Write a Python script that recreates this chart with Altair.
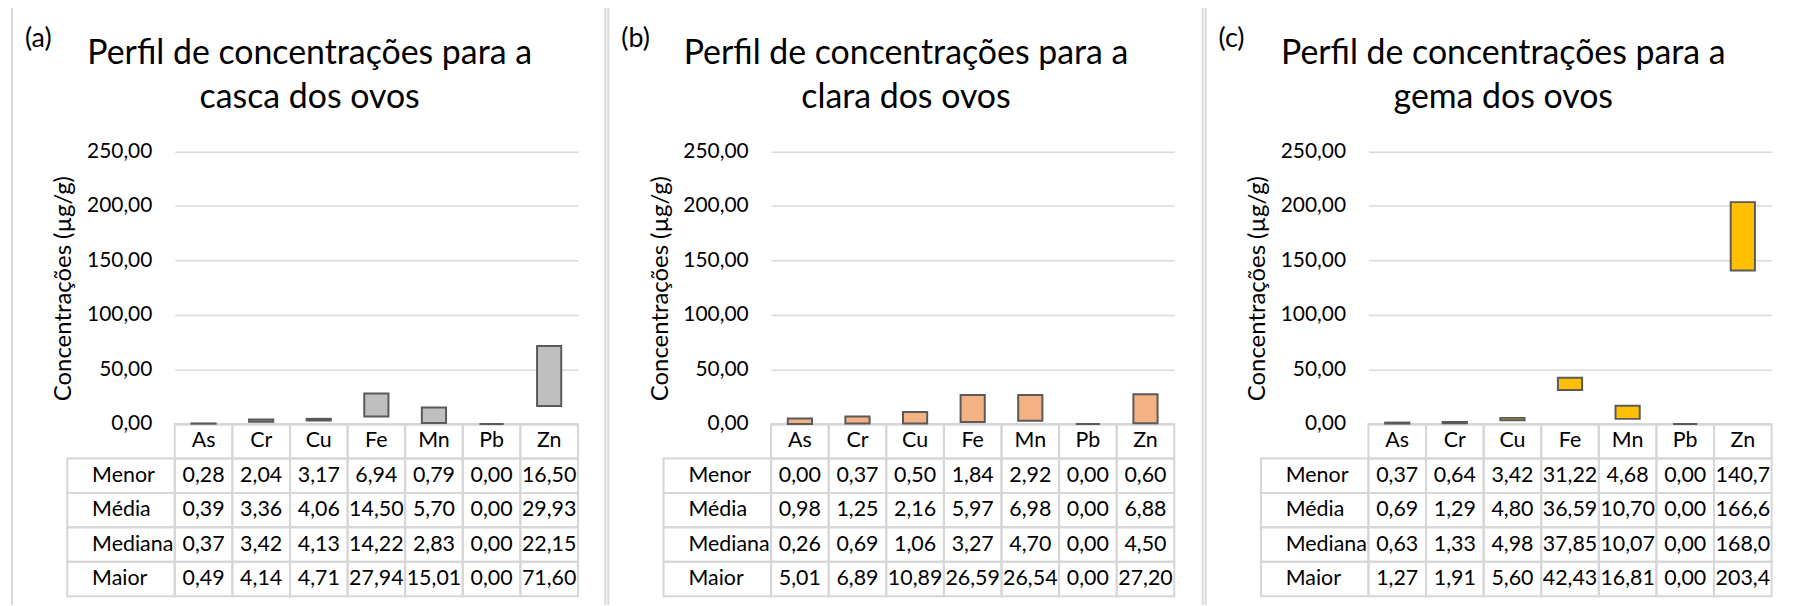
import altair as alt
import pandas as pd

ELEMENTS = ["As", "Cr", "Cu", "Fe", "Mn", "Pb", "Zn"]
ROW_NAMES = ["Menor", "Média", "Mediana", "Maior"]
Y_TICKS = [0, 50, 100, 150, 200, 250]

# (a) casca
A_MENOR = [0.28, 2.04, 3.17, 6.94, 0.79, 0.00, 16.50]
A_MEDIA = [0.39, 3.36, 4.06, 14.50, 5.70, 0.00, 29.93]
A_MEDIANA = [0.37, 3.42, 4.13, 14.22, 2.83, 0.00, 22.15]
A_MAIOR = [0.49, 4.14, 4.71, 27.94, 15.01, 0.00, 71.60]

# (b) clara
B_MENOR = [0.00, 0.37, 0.50, 1.84, 2.92, 0.00, 0.60]
B_MEDIA = [0.98, 1.25, 2.16, 5.97, 6.98, 0.00, 6.88]
B_MEDIANA = [0.26, 0.69, 1.06, 3.27, 4.70, 0.00, 4.50]
B_MAIOR = [5.01, 6.89, 10.89, 26.59, 26.54, 0.00, 27.20]

# (c) gema
C_MENOR = [0.37, 0.64, 3.42, 31.22, 4.68, 0.00, 140.70]
C_MEDIA = [0.69, 1.29, 4.80, 36.59, 10.70, 0.00, 166.60]
C_MEDIANA = [0.63, 1.33, 4.98, 37.85, 10.07, 0.00, 168.00]
C_MAIOR = [1.27, 1.91, 5.60, 42.43, 16.81, 0.00, 203.40]

TITLE_A = ["Perfil de concentrações para a", "casca dos ovos"]
TITLE_B = ["Perfil de concentrações para a", "clara dos ovos"]
TITLE_C = ["Perfil de concentrações para a", "gema dos ovos"]

FONT = "Lato"
H = 602
BORDER = "#D9D9D9"
CELL = "#D6D6D6"
TABLE_FS = 21.5


def panel(tag, title_lines, menor, media, mediana, maior, fill, W, right_border=True):
    bars_df = pd.DataFrame({"element": ELEMENTS, "menor": menor, "maior": maior})
    recs = []
    for i, el in enumerate(ELEMENTS):
        recs.append({"element": el, "row": "hdr", "value": None})
        for rn, arr in zip(ROW_NAMES, [menor, media, mediana, maior]):
            recs.append({"element": el, "row": rn, "value": arr[i]})
    tab_df = pd.DataFrame(recs)
    lab_df = pd.DataFrame({"row": ROW_NAMES})
    one = pd.DataFrame({"k": [0]})

    xs = alt.Scale(domain=ELEMENTS, range=[164.5, 569.5], paddingInner=0, paddingOuter=0)
    X = alt.X("element:N", scale=xs, axis=None)
    rows_scale = alt.Scale(domain=["hdr"] + ROW_NAMES, range=[420.5, 593.5],
                           paddingInner=0, paddingOuter=0)
    YR = alt.Y("row:N", scale=rows_scale, axis=None)

    yaxis = alt.Axis(
        values=Y_TICKS, grid=True, gridColor="#D9D9D9", gridWidth=1.5,
        domain=False, ticks=False, labelPadding=23, labelFont=FONT,
        labelFontSize=21, labelColor="#000000",
        labelExpr="replace(format(datum.value, '.2f'), '.', ',')",
        offset=-164.5, title="Concentrações (µg/g)", titleFont=FONT,
        titleFontSize=24, titleFontWeight="normal", titleColor="#000000",
        titleX=-111.5, titleY=284, titleAngle=270, titleAlign="center",
        titleBaseline="middle",
    )

    bars = alt.Chart(bars_df).mark_bar(
        width=alt.RelativeBandSize(0.42), fill=fill, stroke="#5A5A5A", strokeWidth=2
    ).encode(
        x=X,
        y=alt.Y("menor:Q", scale=alt.Scale(domain=[0, 250], range=[420.5, 146.6],
                                           nice=False, zero=True), axis=yaxis),
        y2=alt.Y2("maior:Q"),
    )

    cells = alt.Chart(tab_df).mark_rect(fillOpacity=0, stroke=CELL, strokeWidth=2).encode(
        x=X, y=YR
    )
    labcells = alt.Chart(lab_df).mark_rect(fillOpacity=0, stroke=CELL, strokeWidth=2).encode(
        x=alt.value(56.5), x2=alt.value(164.5), y=YR
    )
    # cell text; long numbers are clipped by the cell width as in the spreadsheet
    vtext = alt.Chart(tab_df).transform_calculate(
        label="datum.row == 'hdr' ? datum.element : "
              "substring(replace(format(datum.value, '.2f'), '.', ','), 0, 5)"
    ).mark_text(baseline="middle", font=FONT, fontSize=TABLE_FS, color="#000000").encode(
        x=X, y=YR, text="label:N")
    labtext = alt.Chart(lab_df).mark_text(
        align="left", baseline="middle", font=FONT, fontSize=TABLE_FS, color="#000000"
    ).encode(x=alt.value(81.5), y=YR, text="row:N")

    title = alt.Chart(one).mark_text(
        align="center", baseline="alphabetic", font=FONT, fontSize=34,
        color="#000000", lineHeight=44
    ).encode(x=alt.value(300), y=alt.value(59), text=alt.value(title_lines))
    tagm = alt.Chart(one).mark_text(
        align="left", baseline="alphabetic", font=FONT, fontSize=27, color="#000000"
    ).encode(x=alt.value(14), y=alt.value(42), text=alt.value(tag))

    left = alt.Chart(one).mark_rule(color=BORDER, strokeWidth=2).encode(
        x=alt.value(1), y=alt.value(1), y2=alt.value(H))
    top = alt.Chart(one).mark_rule(color=BORDER, strokeWidth=2).encode(
        x=alt.value(1), x2=alt.value(W - 1), y=alt.value(1))
    layers = [left, top]
    if right_border:
        layers.append(alt.Chart(one).mark_rule(color=BORDER, strokeWidth=2).encode(
            x=alt.value(W - 1), y=alt.value(1), y2=alt.value(H)))
    layers += [cells, labcells, bars, vtext, labtext, title, tagm]
    return alt.layer(*layers).resolve_scale(y="independent").properties(width=W, height=H)


pa = panel("(a)", TITLE_A, A_MENOR, A_MEDIA, A_MEDIANA, A_MAIOR, "#BFBFBF", 598)
pb = panel("(b)", TITLE_B, B_MENOR, B_MEDIA, B_MEDIANA, B_MAIOR, "#F4B183", 599)
pc = panel("(c)", TITLE_C, C_MENOR, C_MEDIA, C_MEDIANA, C_MAIOR, "#FFC000", 595,
           right_border=False)

chart = alt.hconcat(pa, pb, pc, spacing=1, bounds="flush").properties(
    padding={"left": 3, "top": -4, "right": 0, "bottom": 0}
).configure_view(stroke=None)

chart.save("out.html", embed_options={"renderer": "svg", "actions": False})
